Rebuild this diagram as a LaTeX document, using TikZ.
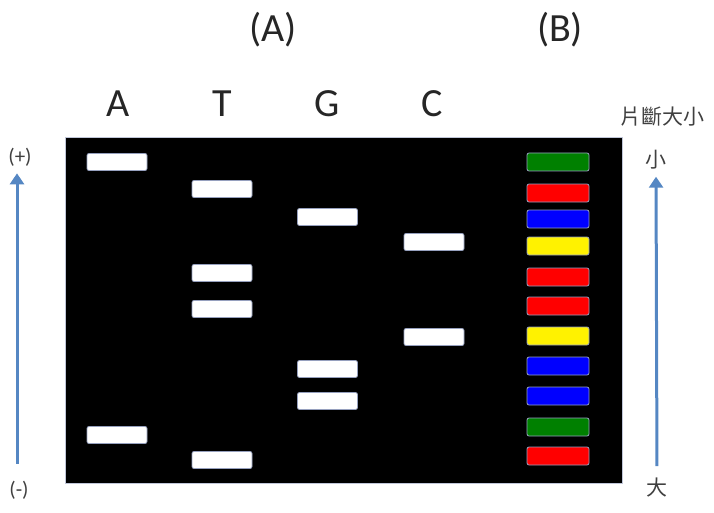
\documentclass[tikz,border=0pt]{standalone}
\usepackage{fontspec}
\setmainfont{Carlito}
\newfontfamily\cjkfont{Noto Sans CJK TC}
\usepackage{tikz}
\usetikzlibrary{positioning}
\usetikzlibrary{arrows.meta}
\definecolor{arrowblue}{RGB}{85,135,195}
\definecolor{bandgreen}{RGB}{0,128,0}
\definecolor{bandedge}{RGB}{150,160,190}

\begin{document}
\begin{tikzpicture}[x=1pt, y=-1pt,
    whiteband/.style={rectangle, fill=white, draw=bandedge, line width=0.8pt, rounded corners=2pt, minimum width=60pt, minimum height=17pt, inner sep=0pt},
    ladderband/.style={whiteband, minimum width=62pt, minimum height=18pt},
    lanelabel/.style={font=\fontsize{40}{42}\selectfont, text=black!85},
    sidelabel/.style={font=\fontsize{21}{23}\selectfont, text=black!75, inner sep=0pt},
    sizearrow/.style={draw=arrowblue, line width=3pt, -{Triangle[length=11pt, width=14pt]}},
    ]
    \useasboundingbox (0,0) rectangle (714,513);

    %Gel
    \node[fill=black, draw=bandedge!60, minimum width=557pt, minimum height=346pt, inner sep=0pt] (gel) at (343.5,310) {};

    %Labels
    \node[lanelabel] (partA)  at (273,30)  {(A)};
    \node[lanelabel] (partB)  at (560,30)  {(B)};
    \node[lanelabel] (laneA)  at (118,104) {A};
    \node[lanelabel] (laneT)  at (222,104) {T};
    \node[lanelabel] (laneG)  at (327,104) {G};
    \node[lanelabel] (laneC)  at (432,104) {C};
    \node[sidelabel] (sizetitle) at (662,117) {\cjkfont 片斷大小};
    \node[sidelabel] (small)  at (656,160) {\cjkfont 小};
    \node[sidelabel] (large)  at (657,488) {\cjkfont 大};
    \node[sidelabel] (plus)   at (20,157)  {(+)};
    \node[sidelabel] (minus)  at (19,490)  {(-)};

    %Bands A
    \node[whiteband] (bandA1) at (117,162) {};
    \node[whiteband] (bandA2) at (117,435) {};
    %Bands T
    \node[whiteband] (bandT1) at (222,189) {};
    \node[whiteband] (bandT2) at (222,273) {};
    \node[whiteband] (bandT3) at (222,309) {};
    \node[whiteband] (bandT4) at (222,460) {};
    %Bands G
    \node[whiteband] (bandG1) at (327.5,217) {};
    \node[whiteband] (bandG2) at (327.5,369) {};
    \node[whiteband] (bandG3) at (327.5,401) {};
    %Bands C
    \node[whiteband] (bandC1) at (434,242) {};
    \node[whiteband] (bandC2) at (434,337) {};

    %Ladder B
    \node[ladderband, fill=bandgreen] (ladder1)  at (558,162) {};
    \node[ladderband, fill=red]       (ladder2)  at (558,193) {};
    \node[ladderband, fill=blue]      (ladder3)  at (558,219) {};
    \node[ladderband, fill=yellow]    (ladder4)  at (558,246) {};
    \node[ladderband, fill=red]       (ladder5)  at (558,277) {};
    \node[ladderband, fill=red]       (ladder6)  at (558,306) {};
    \node[ladderband, fill=yellow]    (ladder7)  at (558,336) {};
    \node[ladderband, fill=blue]      (ladder8)  at (558,366) {};
    \node[ladderband, fill=blue]      (ladder9)  at (558,396) {};
    \node[ladderband, fill=bandgreen] (ladder10) at (558,427) {};
    \node[ladderband, fill=red]       (ladder11) at (558,456) {};

    %Arrows
    \draw[sizearrow, shorten <=17pt, shorten >=7pt] ([xshift=-2pt]minus.north) -- ([xshift=-3pt]plus.south);
    \draw[sizearrow, shorten <=12pt, shorten >=7pt] (large.north) -- (small.south);

\end{tikzpicture}
\end{document}
